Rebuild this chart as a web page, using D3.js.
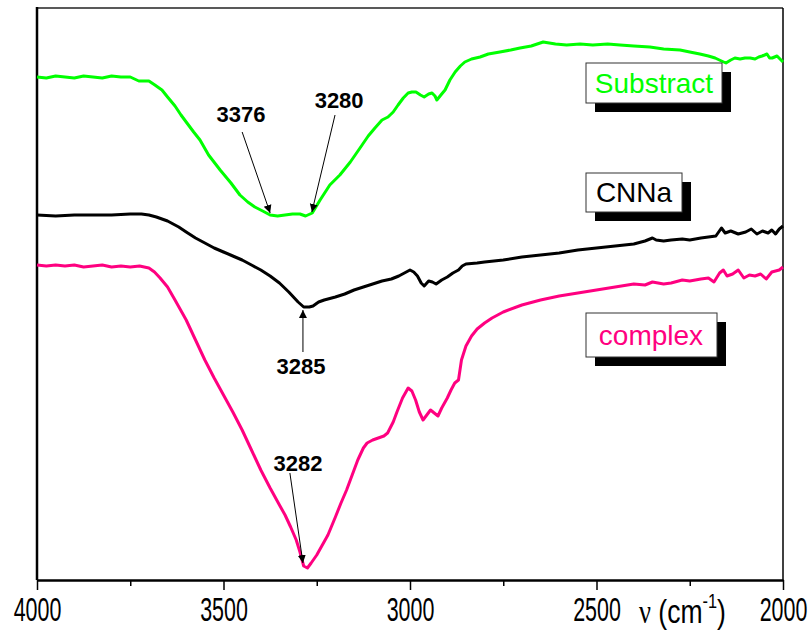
<!DOCTYPE html>
<html><head><meta charset="utf-8">
<script src="https://cdn.jsdelivr.net/npm/d3@7/dist/d3.min.js"></script>
<style>
body{margin:0;background:#fff;}
text{font-family:"Liberation Sans",Arial,sans-serif;}
</style></head>
<body><svg id="c" width="811" height="633"></svg>
<script>
// wavenumber (cm-1) and transmittance (arbitrary units, offset curves)
const substractWn = [4000,3975,3950,3925,3900,3875,3850,3825,3800,3775,3750,3727,3700,3684,3665,3650,3630,3614,3600,3580,3563,3540,3509,3480,3456,3435,3416,3395,3375,3355,3335,3315,3295,3280,3262,3241,3215,3188,3160,3134,3112,3094,3075,3059,3045,3032,3018,3005,2995,2984,2972,2962,2950,2941,2933,2928,2915,2906,2893,2879,2865,2853,2835,2812,2790,2759,2730,2705,2675,2643,2610,2580,2544,2510,2470,2437,2400,2357,2320,2276,2250,2223,2200,2182,2165,2153,2140,2129,2115,2102,2088,2075,2065,2056,2043,2036,2029,2016,2008,2000];
const substractT  = [503,502,504,503,502,504,503,502,504,503,503,499,499,495,490,483,474,465,458,448,440,425,410,397,385,378,373,369,365,364,365,366,366,364,367,380,395,405,418,432,444,452,460,463,468,475,482,487,488,488,485,483,486,487,484,480,486,490,500,508,514,518,521,523,526,528,530,532,534,538,536,535,536,535,536,535,534,533,531,530,528,526,524,522,519,517,520,522,521,522,522,521,523,524,526,522,522,524,521,518];
const cnnaWn = [4000,3950,3900,3850,3800,3750,3720,3700,3680,3650,3620,3600,3575,3550,3525,3500,3475,3450,3425,3400,3375,3350,3325,3300,3285,3270,3260,3245,3230,3200,3175,3150,3125,3100,3075,3050,3030,3010,3000,2990,2980,2970,2962,2950,2940,2930,2915,2900,2885,2870,2860,2850,2820,2800,2750,2700,2650,2600,2550,2500,2450,2400,2370,2350,2340,2320,2300,2270,2250,2220,2200,2180,2165,2155,2140,2120,2100,2085,2070,2055,2040,2030,2020,2010,2000];
const cnnaT  = [365,364,365,365,365,366,366,365,363,359,353,348,342,337,332,328,324,320,315,310,304,297,288,278,273,273,274,278,280,283,286,290,293,296,299,301,304,308,310,308,304,297,294,299,298,296,300,303,307,310,314,316,317,318,320,323,325,327,330,332,334,336,339,342,340,339,340,341,340,342,343,344,352,347,349,346,348,351,346,349,347,350,346,351,354];
const complexWn = [4000,3975,3950,3925,3900,3875,3850,3825,3800,3775,3750,3725,3700,3685,3670,3650,3630,3615,3600,3575,3550,3525,3500,3475,3450,3425,3400,3375,3350,3335,3320,3305,3295,3285,3275,3265,3250,3235,3220,3200,3185,3170,3155,3140,3125,3115,3100,3085,3070,3060,3045,3035,3020,3005,2995,2985,2975,2965,2955,2945,2935,2925,2915,2900,2890,2880,2870,2862,2850,2835,2820,2800,2780,2750,2700,2650,2600,2550,2500,2450,2400,2370,2350,2320,2300,2270,2250,2220,2200,2185,2170,2160,2150,2135,2120,2105,2090,2075,2060,2045,2030,2020,2010,2000];
const complexT  = [315,314,315,314,315,313,314,315,313,314,313,314,312,308,302,293,280,270,260,240,220,202,185,168,150,130,110,92,75,65,53,40,28,14,12,17,25,35,45,63,77,90,105,120,132,137,140,142,144,147,158,168,182,192,189,180,168,160,165,170,167,164,172,182,190,197,200,220,234,244,251,257,262,268,275,280,284,287,290,293,296,295,298,296,297,300,299,301,302,298,307,310,304,306,310,302,305,304,306,301,308,309,310,313];

const seriesNames = ["Substract","CNNa","complex"];
const seriesColors = ["#00ff00","#000000","#ff0080"];
const xTicks = [4000,3500,3000,2500,2000];
const xMinorTicks = [3750,3250,2750,2250];
// annotations: label, arrow tip (wn, T), arrow tail (wn, T), label anchor (wn, T)
const annLabels = ["3376","3280","3285","3282"];
const annTip  = [[3375,367],[3263,368],[3287,270],[3287,17]];
const annTail = [[3450,448],[3201,465],[3287,228],[3322,107]];
const annText = [[3453,458],[3190,472],[3292,206],[3300,109]];

const svg = d3.select("#c");
const L=37,R=783,T=8,B=580;
const x = d3.scaleLinear().domain([4000,2000]).range([L,R]);
const y = d3.scaleLinear().domain([0,572]).range([B,T]);

svg.append("defs").append("marker").attr("id","ah").attr("viewBox","0 0 10 10")
  .attr("refX",10).attr("refY",5).attr("markerWidth",8).attr("markerHeight",14)
  .attr("markerUnits","userSpaceOnUse").attr("orient","auto")
  .append("path").attr("d","M0,0 L10,5 L0,10 Z").attr("fill","#000");

// frame
svg.append("line").attr("x1",L).attr("x2",R).attr("y1",T).attr("y2",T).attr("stroke","#222").attr("stroke-width",1.5);
svg.append("line").attr("x1",R).attr("x2",R).attr("y1",T).attr("y2",B).attr("stroke","#000").attr("stroke-width",1.5);
svg.append("line").attr("x1",L).attr("x2",L).attr("y1",T-1).attr("y2",B).attr("stroke","#000").attr("stroke-width",2.5);

const gx = svg.append("g").attr("transform",`translate(0,${B})`)
  .call(d3.axisBottom(x).tickValues(xTicks).tickSize(10).tickSizeOuter(0).tickPadding(8).tickFormat(d3.format("d")));
gx.select(".domain").attr("stroke","#000").attr("stroke-width",2.5);
gx.selectAll(".tick line").attr("stroke","#000").attr("stroke-width",1.5);
gx.selectAll(".tick text").attr("font-size",33).attr("fill","#000")
  .attr("font-family","Liberation Sans, Arial, sans-serif").attr("transform","scale(0.65,1)").attr("dy","0.71em");
svg.append("g").attr("transform",`translate(0,${B})`)
  .call(d3.axisBottom(x).tickValues(xMinorTicks).tickSize(6).tickFormat(""))
  .call(g=>{g.select(".domain").remove(); g.selectAll("line").attr("stroke","#000").attr("stroke-width",1.5);});

// axis title
const at = svg.append("text").attr("transform","translate(639,623) scale(0.78,1)").attr("font-size",34).attr("fill","#000");
at.append("tspan").attr("font-family","Liberation Serif, serif").text("ν");
at.append("tspan").text(" (cm");
at.append("tspan").attr("font-size",21).attr("dy",-15).text("-1");
at.append("tspan").attr("dy",15).text(")");

// curves
const line = d3.line().x(d=>x(d[0])).y(d=>y(d[1]));
const data = [d3.zip(substractWn,substractT), d3.zip(cnnaWn,cnnaT), d3.zip(complexWn,complexT)];
data.forEach((d,i)=>{
  svg.append("path").datum(d).attr("d",line).attr("fill","none")
    .attr("stroke",seriesColors[i]).attr("stroke-width",3).attr("stroke-linejoin","round");
});

// annotations
annLabels.forEach((lab,i)=>{
  svg.append("line").attr("x1",x(annTail[i][0])).attr("y1",y(annTail[i][1]))
    .attr("x2",x(annTip[i][0])).attr("y2",y(annTip[i][1]))
    .attr("stroke","#000").attr("stroke-width",1).attr("marker-end","url(#ah)");
  svg.append("text").attr("x",x(annText[i][0])).attr("y",y(annText[i][1]))
    .attr("text-anchor","middle").attr("font-size",22).attr("font-weight","bold").text(lab);
});

// legend boxes
const boxes = [{x:586,y:63,w:136,h:40,tx:654,ty:93},{x:586,y:173,w:96,h:39,tx:634,ty:202},{x:586,y:313,w:131,h:44,tx:651,ty:345}];
boxes.forEach((b,i)=>{
  svg.append("rect").attr("x",b.x+9).attr("y",b.y+9).attr("width",b.w).attr("height",b.h).attr("fill","#000");
  svg.append("rect").attr("x",b.x).attr("y",b.y).attr("width",b.w).attr("height",b.h).attr("fill","#fff").attr("stroke","#333").attr("stroke-width",1);
  svg.append("text").attr("x",b.tx).attr("y",b.ty).attr("text-anchor","middle").attr("font-size",28)
    .attr("fill",seriesColors[i]).text(seriesNames[i]);
});
</script></body></html>
